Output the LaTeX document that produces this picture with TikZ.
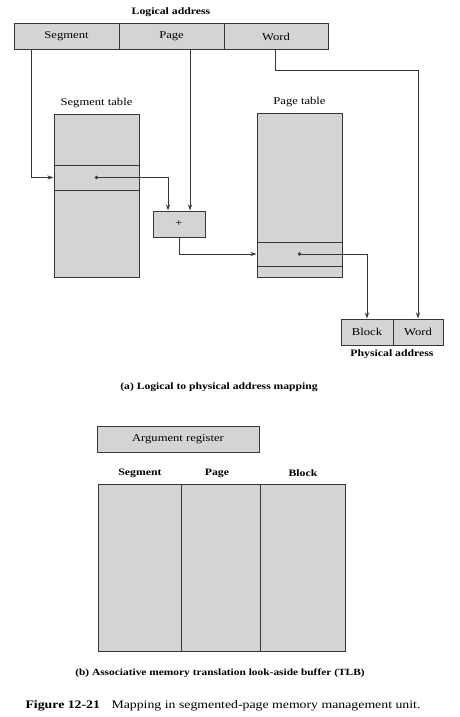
\documentclass[tikz,border=0pt]{standalone}
\usepackage{fontspec}
\setmainfont{Liberation Serif}[FakeStretch=1.2]
\usetikzlibrary{positioning, arrows.meta, calc}
\definecolor{cellgray}{RGB}{214,211,211}
\definecolor{linegray}{RGB}{55,55,55}
\tikzset{
  cell/.style={draw=linegray, fill=cellgray, line width=1pt, inner sep=0pt, minimum height=26pt},
  row/.style={draw=linegray, line width=1pt, inner sep=0pt, minimum width=85pt},
  link/.style={draw=linegray, line width=1pt, -{Stealth[length=6pt,width=4pt]}},
  lbl/.style={inner sep=0pt, font=\fontsize{9.8}{11}\selectfont\bfseries},
}

\begin{document}
\begin{tikzpicture}[x=1pt, y=-1pt, font=\fontsize{10.5}{12}\selectfont]
  \useasboundingbox (0,0) rectangle (459,717);
  % (a) logical address
  \node[lbl] (lalabel) at (171,12) {Logical address};
  \node[cell, minimum width=105pt] (seg) at (66.5,36.5) {Segment};
  \node[cell, minimum width=105pt] (page) at (171.5,36.5) {Page};
  \node[cell, minimum width=104pt] (word) at (276,36.5) {Word};

  % segment table
  \node[inner sep=0pt] (stlabel) at (96.5,103) {Segment table};
  \node[cell, minimum width=85pt, minimum height=163pt] (segtab) at (96.5,195.5) {};
  \node[row, minimum height=25pt] (segrow) at (96.5,177.5) {};
  \coordinate (segdot) at (segrow.center);

  % adder
  \node[cell, minimum width=52pt] (add) at (179,224) {+};

  % page table
  \node[inner sep=0pt] (ptlabel) at (299.5,102) {Page table};
  \node[cell, minimum width=85pt, minimum height=164pt] (pagetab) at (299.5,195) {};
  \node[row, minimum height=24pt] (pagerow) at (299.5,254) {};
  \coordinate (pgdot) at (pagerow.center);

  % physical address
  \node[cell, minimum width=52pt] (blk) at (367,332) {Block};
  \node[cell, minimum width=50pt] (pword) at (418,332) {Word};
  \node[lbl] (palabel) at (392,354) {Physical address};

  \draw[link] ([xshift=18pt]seg.south west) |- (segtab.west |- segdot);
  \draw[link] ([xshift=18.5pt]page.south) coordinate (pg) -- (pg |- add.north);
  \draw[link] (segdot) -| ([xshift=-11pt]add.north);
  \draw[link] (add.south) |- (pagetab.west |- pgdot);
  \draw[link] (pgdot) -| (blk.north);
  \draw[link] ([xshift=-1pt]word.south) -- ++(0,20) -| (pword.north);
  \fill[linegray] (segdot) circle (1.8) (pgdot) circle (1.8);

  \node[lbl, font=\fontsize{9.7}{11}\selectfont\bfseries] (capa) at (219,387) {(a) Logical to physical address mapping};

  % (b) TLB
  \node[cell, minimum width=162pt] (argreg) at (178,439) {Argument register};
  \node[cell, minimum width=83pt, minimum height=167pt] (tseg) at (139.5,567.5) {};
  \node[cell, minimum width=79pt, minimum height=167pt] (tpage) at (220.5,567.5) {};
  \node[cell, minimum width=85pt, minimum height=167pt] (tblk) at (302.5,567.5) {};
  \node[lbl] (hseg) at (140,473) {Segment};
  \node[lbl] (hpage) at (217,473) {Page};
  \node[lbl] (hblk) at (303,473) {Block};

  \node[lbl, font=\fontsize{9.5}{11}\selectfont\bfseries] (capb) at (220,673) {(b) Associative memory translation look-aside buffer (TLB)};
  \node[inner sep=0pt, font=\fontsize{11.5}{13}\selectfont] (fig) at (223,706) {\textbf{Figure 12-21}\quad Mapping in segmented-page memory management unit.};
\end{tikzpicture}
\end{document}
